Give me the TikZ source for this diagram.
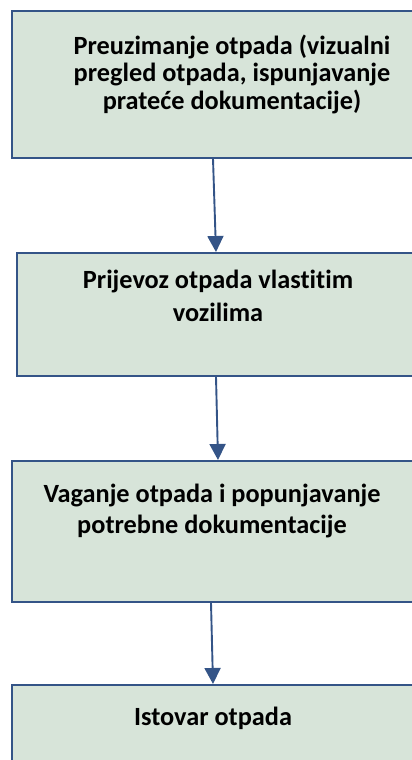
\documentclass[tikz,border=0pt]{standalone}
\usepackage{fontspec}
\setmainfont{Carlito}[Ligatures={NoCommon}]
\usetikzlibrary{arrows.meta,calc}
\definecolor{boxfill}{RGB}{215,228,217}
\definecolor{boxline}{RGB}{52,84,135}
\tikzset{
  stepbox/.style={draw=boxline, line width=1.8pt, fill=boxfill, rectangle, inner sep=0pt, anchor=north west},
  steptext/.style={font=\bfseries\fontsize{26.3}{33}\selectfont, align=center, inner sep=0pt, text=black},
  arr/.style={draw=boxline, line width=1.9pt, -{Triangle[length=16pt,width=16pt]}}
}
\begin{document}
\begin{tikzpicture}[x=1pt,y=-1pt]
\useasboundingbox (0,0) rectangle (412,760);
\begin{scope}
\clip (0,0) rectangle (412,760);
\node[stepbox, minimum width=420pt, minimum height=147pt] (b1) at (11,10) {};
\node[stepbox, minimum width=420pt, minimum height=123pt] (b2) at (16,252) {};
\node[stepbox, minimum width=420pt, minimum height=141pt] (b3) at (11,460) {};
\node[stepbox, minimum width=420pt, minimum height=100pt] (b4) at (11,684) {};
\end{scope}
\node[steptext, font=\bfseries\fontsize{26.3}{27.5}\selectfont] (t1) at (232,74) {Preuzimanje otpada (vizualni\\pregled otpada, ispunjavanje\\prateće dokumentacije)};
\node[steptext] (t2) at (218,296) {Prijevoz otpada vlastitim\\vozilima};
\node[steptext, font=\bfseries\fontsize{26.3}{31}\selectfont] (t3) at (212,511) {Vaganje otpada i popunjavanje\\potrebne dokumentacije};
\node[steptext] (t4) at (213,718) {Istovar otpada};
\draw[arr] ([xshift=202pt]b1.south west) -- ([xshift=200pt]b2.north west);
\draw[arr] ([xshift=200pt]b2.south west) -- ([xshift=207pt]b3.north west);
\draw[arr] ([xshift=200pt]b3.south west) -- ([xshift=202pt]b4.north west);
\end{tikzpicture}
\end{document}
